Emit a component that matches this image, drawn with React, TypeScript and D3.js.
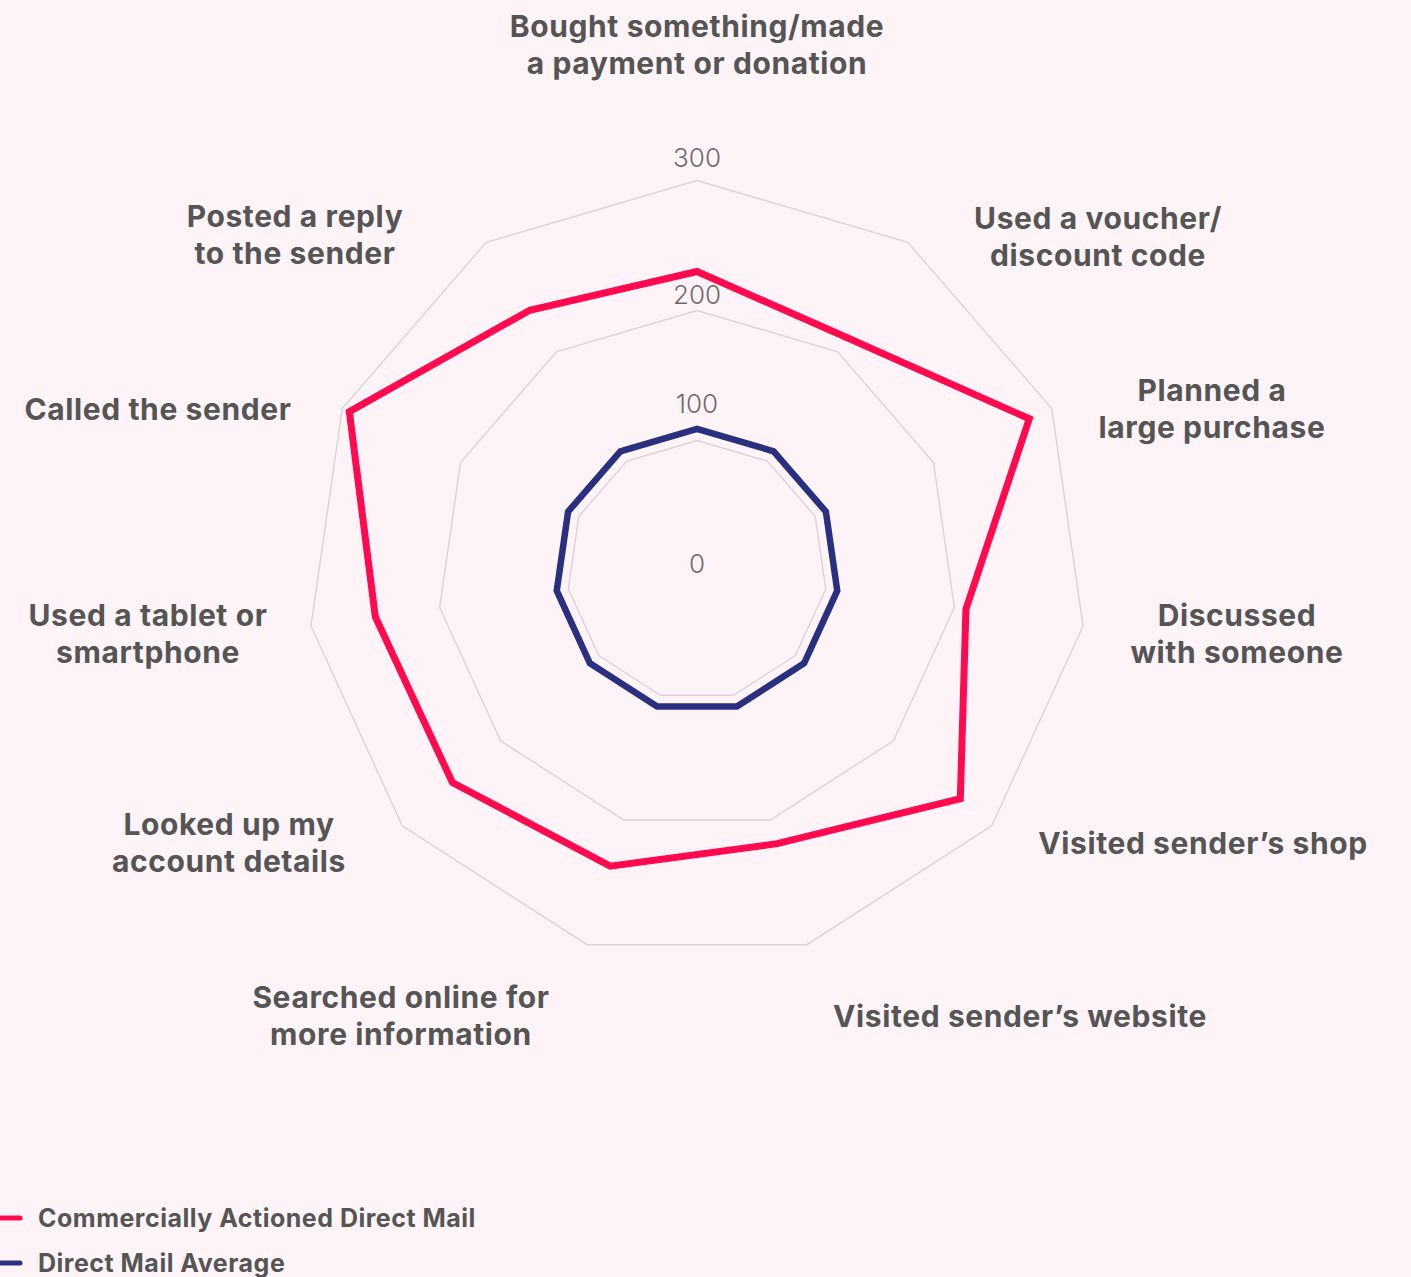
import React from 'react';
import * as d3 from 'd3';

// axis labels, clockwise from the top
const categories = [
  ['Bought something/made', 'a payment or donation'],
  ['Used a voucher/', 'discount code'],
  ['Planned a', 'large purchase'],
  ['Discussed', 'with someone'],
  ['Visited sender\u2019s shop'],
  ['Visited sender\u2019s website'],
  ['Searched online for', 'more information'],
  ['Looked up my', 'account details'],
  ['Used a tablet or', 'smartphone'],
  ['Called the sender'],
  ['Posted a reply', 'to the sender'],
];

const commercial = [230, 213, 281, 209, 268, 219, 237, 249, 250, 294, 238];
const average = [109, 109, 109, 109, 109, 109, 109, 109, 109, 109, 109];

const ticks = [0, 100, 200, 300];
const tickLabels = ['0', '100', '200', '300'];

const seriesNames = ['Commercially Actioned Direct Mail', 'Direct Mail Average'];

// layout
const W = 1411;
const H = 1277;
const cx = 697;
const cy = 570.5;
const RED = '#ff0a4e';
const NAVY = '#29307f';
const TEXT = '#555555';
const GRID = '#dcd1d5';
const font = 'Inter, "Noto Sans", sans-serif';

// where each category label block sits (centre x, first baseline)
const labelAnchors = [
  [697, 37],
  [1098, 229],
  [1212, 401],
  [1237, 626],
  [1203, 854],
  [1020, 1027],
  [401, 1008],
  [229, 835],
  [148, 626],
  [158, 420],
  [295, 227],
];
// how far each tick label baseline sits above its ring
const tickLift = [-2.5, 27.5, 6.5, 13.5];

const App = () => {
  const r = d3.scaleLinear().domain([0, 300]).range([0, 390]);
  const angle = d3
    .scaleLinear()
    .domain([0, categories.length])
    .range([0, 2 * Math.PI]);

  const radial = d3
    .lineRadial<number>()
    .angle((d, i) => angle(i))
    .radius(d => r(d))
    .curve(d3.curveLinearClosed);

  const ring = (v: number) => radial(categories.map(() => v)) || '';

  document.body.style.margin = '0';
  document.body.style.overflow = 'hidden';

  return (
    <svg width={W} height={H} style={{ display: 'block', background: '#fef4f7' }}>
      <g transform={`translate(${cx} ${cy})`}>
        {ticks
          .filter(t => t > 0)
          .map(t => (
            <path key={t} d={ring(t)} fill="none" stroke={GRID} strokeWidth={1.4} />
          ))}
        <path
          d={radial(average) || ''}
          fill="none"
          stroke={NAVY}
          strokeWidth={6.5}
          strokeLinejoin="miter"
        />
        <path
          d={radial(commercial) || ''}
          fill="none"
          stroke={RED}
          strokeWidth={7}
          strokeLinejoin="miter"
        />
        {ticks.map((t, i) => (
          <text
            key={t}
            x={0}
            y={-r(t) - tickLift[i]}
            textAnchor="middle"
            fontFamily={font}
            fontWeight={300}
            fontSize={26}
            fill="#6e6a6c"
          >
            {tickLabels[i]}
          </text>
        ))}
      </g>

      {categories.map((lines, i) => (
        <text
          key={i}
          x={labelAnchors[i][0]}
          y={labelAnchors[i][1]}
          textAnchor="middle"
          fontFamily={font}
          fontWeight={700}
          fontSize={30}
          fill={TEXT}
          letterSpacing={0.6}
        >
          {lines.map((l, j) => (
            <tspan key={j} x={labelAnchors[i][0]} dy={j === 0 ? 0 : 37}>
              {l}
            </tspan>
          ))}
        </text>
      ))}

      {seriesNames.map((name, i) => (
        <g key={name} transform={`translate(0 ${1218 + i * 45})`}>
          <line x1={-4} x2={20} y1={0} y2={0} stroke={i === 0 ? RED : NAVY} strokeWidth={5} strokeLinecap="round" />
          <text x={38} y={9} fontFamily={font} fontWeight={700} fontSize={25} fill={TEXT} letterSpacing={0.5}>
            {name}
          </text>
        </g>
      ))}
    </svg>
  );
};

export default App;
